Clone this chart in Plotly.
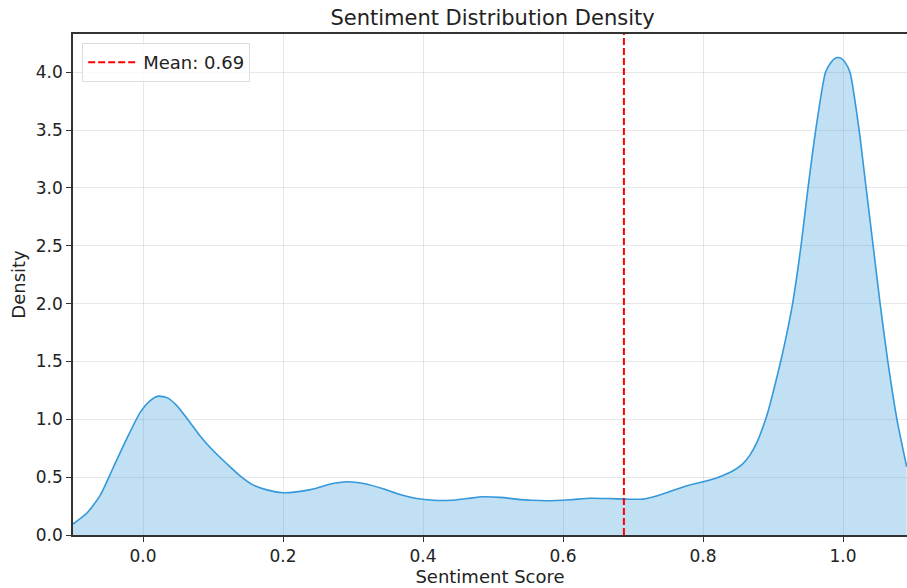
import plotly.graph_objects as go

# KDE curve
score_x = [-0.1, -0.08, -0.061, -0.042, -0.023, -0.004, 0.01, 0.022, 0.035, 0.048,
           0.065, 0.081, 0.1, 0.119, 0.137, 0.155, 0.177, 0.2, 0.222, 0.245,
           0.268, 0.291, 0.315, 0.343, 0.367, 0.391, 0.415, 0.44, 0.463, 0.486,
           0.51, 0.533, 0.555, 0.577, 0.61, 0.639, 0.665, 0.69, 0.714, 0.735,
           0.757, 0.78, 0.8, 0.822, 0.843, 0.856, 0.867, 0.877, 0.886, 0.893,
           0.9, 0.907, 0.914, 0.921, 0.928, 0.94, 0.95, 0.961, 0.975, 0.983,
           0.988, 0.993, 0.998, 1.003, 1.010, 1.023, 1.033, 1.043, 1.053, 1.064,
           1.077, 1.091]
density_y = [0.095, 0.19, 0.345, 0.59, 0.835, 1.06, 1.16, 1.20, 1.185, 1.12,
             0.99, 0.86, 0.73, 0.62, 0.52, 0.44, 0.39, 0.365, 0.375, 0.40,
             0.44, 0.46, 0.445, 0.40, 0.35, 0.315, 0.30, 0.30, 0.315, 0.33,
             0.325, 0.31, 0.30, 0.296, 0.305, 0.318, 0.315, 0.31, 0.31, 0.34,
             0.385, 0.43, 0.46, 0.50, 0.555, 0.61, 0.69, 0.80, 0.94, 1.07,
             1.23, 1.40, 1.58, 1.78, 2.0, 2.5, 3.0, 3.5, 4.0, 4.085,
             4.117, 4.127, 4.117, 4.085, 4.0, 3.5, 3.0, 2.5, 2.0, 1.5,
             1.0, 0.59]

mean_value = 0.687
mean_label = "Mean: 0.69"
x_ticks = [0.0, 0.2, 0.4, 0.6, 0.8, 1.0]
y_ticks = [0.0, 0.5, 1.0, 1.5, 2.0, 2.5, 3.0, 3.5, 4.0]
x_range = [-0.1, 1.0914]
y_range = [0, 4.33]

FONT = "DejaVu Sans"
TXT = "#222222"
fig = go.Figure()
fig.add_trace(go.Scatter(
    x=score_x, y=density_y, mode="lines",
    line=dict(color="#3498db", width=1.6, shape="spline", smoothing=0.6),
    fill="tozeroy", fillcolor="rgba(52,152,219,0.3)", showlegend=False, hoverinfo="skip"))
fig.add_trace(go.Scatter(
    x=[mean_value, mean_value], y=y_range, mode="lines",
    line=dict(color="red", width=2, dash="7px,3px"), name=mean_label))

axis_common = dict(showgrid=True, gridcolor="rgba(0,0,0,0.09)", gridwidth=1,
                   showline=True, linecolor="#333333", linewidth=1.5,
                   ticks="outside", ticklen=5, tickwidth=1.2, tickcolor="#333333",
                   zeroline=False, automargin=False,
                   tickfont=dict(family=FONT, size=17, color=TXT))

fig.update_xaxes(range=x_range, tickvals=x_ticks, tickformat=".1f", mirror=True,
                 title=dict(text="Sentiment Score", font=dict(family=FONT, size=18, color=TXT), standoff=4),
                 **axis_common)
fig.update_yaxes(range=y_range, tickvals=y_ticks, tickformat=".1f",
                 title=dict(text="Density", font=dict(family=FONT, size=18, color=TXT), standoff=6),
                 **axis_common)

fig.update_layout(
    width=907, height=588,
    margin=dict(l=73, r=0, t=34, b=53),
    paper_bgcolor="white", plot_bgcolor="white",
    title=dict(text="Sentiment Distribution Density", x=0.543, xanchor="center",
               y=1 - 18 / 588, yanchor="middle",
               font=dict(family=FONT, size=21, color=TXT)),
    legend=dict(x=0.011, y=0.982, xanchor="left", yanchor="top", bgcolor="rgba(255,255,255,0.8)",
                bordercolor="#dddddd", borderwidth=1, itemwidth=50,
                font=dict(family=FONT, size=18, color=TXT)),
    font=dict(family=FONT),
)
fig.write_html("out.html", config={"displayModeBar": False},
               post_script="document.body.style.margin='0';document.body.style.overflow='hidden';")
